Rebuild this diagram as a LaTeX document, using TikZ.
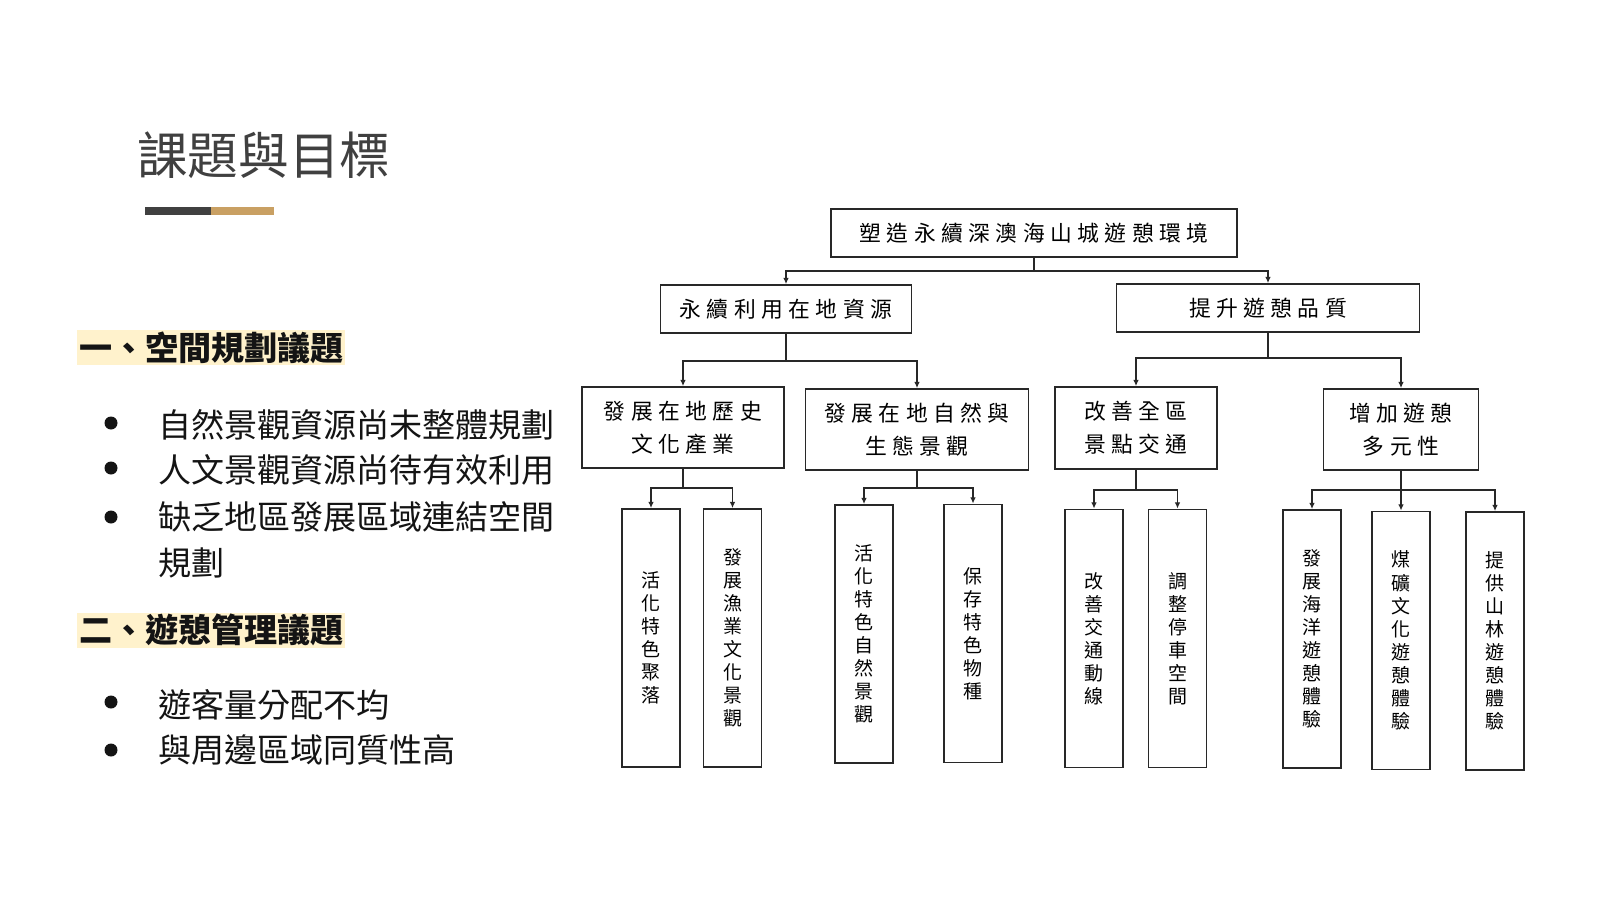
\documentclass[tikz,border=0pt]{standalone}
\usepackage{fontspec}
\setmainfont{Noto Sans CJK TC}
\newfontfamily\chartfont{Noto Sans CJK TC}[LetterSpace=25]
\usetikzlibrary{arrows.meta}
\definecolor{TitleGray}{RGB}{64,64,64}
\definecolor{BarDark}{RGB}{64,64,64}
\definecolor{BarGold}{RGB}{201,160,99}
\definecolor{HeadBand}{RGB}{255,242,204}
\definecolor{LineGray}{RGB}{40,40,40}
\definecolor{TextBlack}{RGB}{20,20,20}

\begin{document}
\begin{tikzpicture}[x=0.025cm, y=-0.025cm,
  box/.style={draw=LineGray, line width=1.2pt, fill=white, inner sep=0pt, align=center, font=\chartfont\fontsize{15.5}{23.5}\selectfont},
  tallbox/.style={draw=LineGray, line width=1.2pt, fill=white, inner sep=0pt, align=center, minimum width=1.45cm, minimum height=6.45cm, font=\fontsize{13.5}{16.4}\selectfont},
  link/.style={draw=LineGray, line width=1.1pt, -{Latex[length=4.5pt,width=4pt]}},
  headline/.style={fill=HeadBand, inner xsep=0pt, inner ysep=0pt, minimum height=0.875cm, minimum width=6.7cm, align=left, text=TextBlack, font=\bfseries\fontsize{23.5}{28}\selectfont},
  bullettext/.style={inner sep=0pt, align=left, text=TextBlack, font=\fontsize{23.5}{32.5}\selectfont}]
  \useasboundingbox[fill=white] (0,0) rectangle (1600,900);

  % left column
  \node[anchor=west, inner sep=0pt, text=TitleGray, font=\fontsize{36}{40}\selectfont] (title) at (137,155) {課題與目標};
  \fill[BarDark] (145,207) rectangle (211,215);
  \fill[BarGold] (211,207) rectangle (274,215);

  \node[headline, anchor=west] (head1) at (77,347.5) {一、空間規劃議題};
  \node[bullettext, anchor=west] (item1) at (158,425) {自然景觀資源尚未整體規劃};
  \node[bullettext, anchor=west] (item2) at (158,470) {人文景觀資源尚待有效利用};
  \node[bullettext, anchor=west] (item3) at (158,539.5) {缺乏地區發展區域連結空間\\規劃};
  \node[headline, anchor=west] (head2) at (77,630) {二、遊憩管理議題};
  \node[bullettext, anchor=west] (item4) at (158,705) {遊客量分配不均};
  \node[bullettext, anchor=west] (item5) at (158,750) {與周邊區域同質性高};
  \foreach \y in {423,468,517,702,750}
    \fill[TextBlack] (111,\y) circle (6.5);

  % goal tree
  \node[box, minimum width=10.15cm, minimum height=1.2cm] (root) at (1034,233) {塑造永續深澳海山城遊憩環境};
  \node[box, minimum width=6.275cm, minimum height=1.2cm] (use) at (786,309) {永續利用在地資源};
  \node[box, minimum width=7.575cm, minimum height=1.2cm] (quality) at (1268,308) {提升遊憩品質};

  \node[box, minimum width=5.05cm, minimum height=2.025cm] (history) at (683,427.5) {發展在地歷史\\文化產業};
  \node[box, minimum width=5.575cm, minimum height=2.025cm] (nature) at (917,429.5) {發展在地自然與\\生態景觀};
  \node[box, minimum width=4.05cm, minimum height=2.05cm] (traffic) at (1136,428) {改善全區\\景點交通};
  \node[box, minimum width=3.875cm, minimum height=2.025cm] (variety) at (1401,429.5) {增加遊憩\\多元性};

  \node[tallbox] (village) at (651,638) {活\\化\\特\\色\\聚\\落};
  \node[tallbox] (fishery) at (732.5,638) {發\\展\\漁\\業\\文\\化\\景\\觀};
  \node[tallbox] (scenery) at (864,634) {活\\化\\特\\色\\自\\然\\景\\觀};
  \node[tallbox] (species) at (973,633.5) {保\\存\\特\\色\\物\\種};
  \node[tallbox] (route) at (1094,638.5) {改\\善\\交\\通\\動\\線};
  \node[tallbox] (parking) at (1177.5,638.5) {調\\整\\停\\車\\空\\間};
  \node[tallbox] (ocean) at (1312,639) {發\\展\\海\\洋\\遊\\憩\\體\\驗};
  \node[tallbox] (coal) at (1401,640.5) {煤\\礦\\文\\化\\遊\\憩\\體\\驗};
  \node[tallbox] (forest) at (1495,641) {提\\供\\山\\林\\遊\\憩\\體\\驗};

  \coordinate (j0) at (1034,271);
  \coordinate (ja) at (786,361);
  \coordinate (jb) at (1268,358);
  \coordinate (jaa) at (683,488);
  \coordinate (jab) at (917,488);
  \coordinate (jba) at (1136,490);
  \coordinate (jbb) at (1401,490);

  \draw[link] (root) -- (j0) -| (use);
  \draw[link] (root) -- (j0) -| (quality);
  \draw[link] (use) -- (ja) -| (history);
  \draw[link] (use) -- (ja) -| (nature);
  \draw[link] (quality) -- (jb) -| (traffic);
  \draw[link] (quality) -- (jb) -| (variety);
  \draw[link] (history) -- (jaa) -| (village);
  \draw[link] (history) -- (jaa) -| (fishery);
  \draw[link] (nature) -- (jab) -| (scenery);
  \draw[link] (nature) -- (jab) -| (species);
  \draw[link] (traffic) -- (jba) -| (route);
  \draw[link] (traffic) -- (jba) -| (parking);
  \draw[link] (variety) -- (jbb) -| (ocean);
  \draw[link] (variety) -- (jbb) -- (coal);
  \draw[link] (variety) -- (jbb) -| (forest);
\end{tikzpicture}
\end{document}
